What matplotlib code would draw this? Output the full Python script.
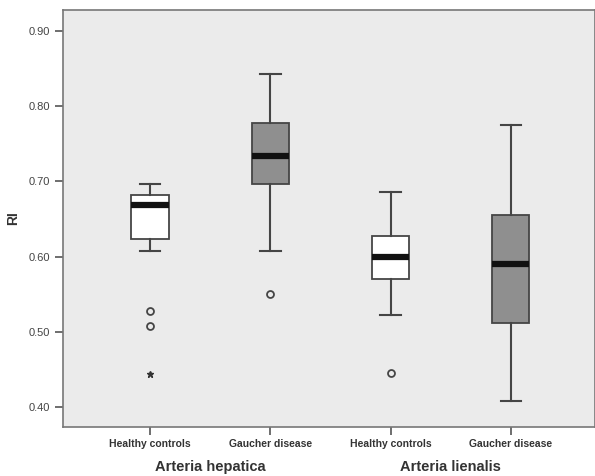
import numpy as np
import matplotlib.pyplot as plt

plt.rcParams['font.family'] = ['Liberation Sans', 'DejaVu Sans']

# Box statistics
groups = ['Healthy controls', 'Gaucher disease', 'Healthy controls', 'Gaucher disease']
arteries = ['Arteria hepatica', 'Arteria lienalis']
whis_hi = [0.696, 0.843, 0.686, 0.775]
q3 = [0.682, 0.778, 0.627, 0.655]
medians = [0.669, 0.734, 0.599, 0.590]
q1 = [0.624, 0.696, 0.570, 0.512]
whis_lo = [0.608, 0.608, 0.522, 0.408]
outliers = [[0.527, 0.508], [0.550], [0.445], []]
extremes = [[0.444], [], [], []]
fills = ['white', '#8f8f8f', 'white', '#8f8f8f']

stats = []
for i in range(len(groups)):
    stats.append({'med': medians[i], 'q1': q1[i], 'q3': q3[i],
                  'whislo': whis_lo[i], 'whishi': whis_hi[i],
                  'fliers': outliers[i], 'label': groups[i]})

fig = plt.figure(figsize=(5.95, 4.76), dpi=100)
ax = fig.add_axes([0.106, 0.103, 0.894, 0.876])
ax.set_facecolor('#ebebeb')

pos = np.arange(len(groups))
edge = '#454545'
bp = ax.bxp(stats, positions=pos, widths=0.31, patch_artist=True,
            boxprops=dict(edgecolor=edge, linewidth=1.3),
            whiskerprops=dict(color=edge, linewidth=1.5),
            capprops=dict(color=edge, linewidth=1.5),
            medianprops=dict(color='#111111', linewidth=4.5, solid_capstyle='butt'),
            flierprops=dict(marker='o', markersize=5, markerfacecolor='none',
                            markeredgecolor=edge, markeredgewidth=1.3),
            capwidths=0.17)
for patch, c in zip(bp['boxes'], fills):
    patch.set_facecolor(c)

for i, ex in enumerate(extremes):
    if ex:
        ax.plot([pos[i]] * len(ex), ex, linestyle='none', marker='*',
                markersize=5, color='#333333')

ax.set_xlim(-0.723, 3.70)
ax.set_ylim(0.3734, 0.928)
ax.set_yticks([0.40, 0.50, 0.60, 0.70, 0.80, 0.90])
ax.set_yticklabels(['0.40', '0.50', '0.60', '0.70', '0.80', '0.90'])
ax.set_xticks(pos)
ax.set_xticklabels(groups, fontsize=7.5, fontweight='bold', color='#333333')

for lab in ax.get_yticklabels():
    lab.set_fontsize(8)
    lab.set_color('#444444')
ax.tick_params(axis='both', direction='out', length=6, width=1.2, color='#555555')
ax.tick_params(axis='x', pad=3)

for s in ax.spines.values():
    s.set_color('#777777')
    s.set_linewidth(1.2)

ax.set_ylabel('RI', fontsize=10, fontweight='bold', color='#333333', labelpad=6)

# group captions under the tick labels
for j, name in enumerate(arteries):
    xc = (pos[2 * j] + pos[2 * j + 1]) / 2
    ax.text(xc, -0.08, name, transform=ax.get_xaxis_transform(), ha='center',
            va='top', fontsize=10.5, fontweight='bold', color='#333333')

fig.savefig('out.png', dpi=100, facecolor='white')
